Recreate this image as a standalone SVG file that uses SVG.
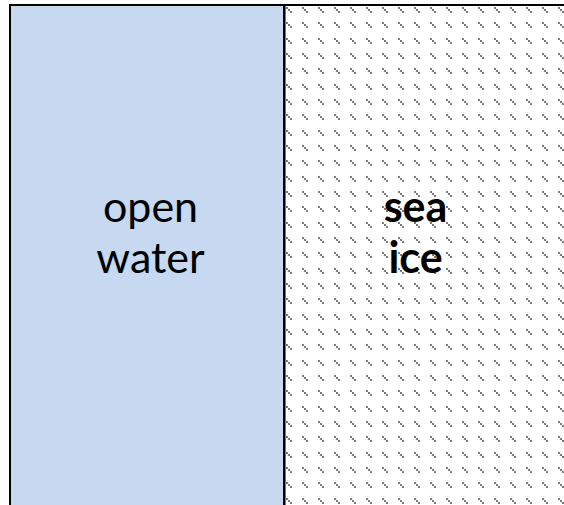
<svg xmlns="http://www.w3.org/2000/svg" width="564" height="505" viewBox="0 0 564 505">
  <style>
    .lbl { font-family: Lato, "Open Sans", "Liberation Sans", sans-serif; font-size: 43px; fill: #000; text-anchor: middle; }
    .bold { font-weight: bold; }
    .border { fill: none; stroke: #000; }
  </style>
  <defs>
    <pattern id="dashes" patternUnits="userSpaceOnUse" x="286" y="7" width="16" height="46">
      <g fill="#7a7a7a">
        <rect x="0" y="0" width="2" height="2"/><rect x="2" y="2" width="2" height="2"/><rect x="4" y="4" width="2" height="2"/>
        <rect x="0" y="15" width="2" height="2"/><rect x="2" y="17" width="2" height="2"/><rect x="4" y="19" width="2" height="2"/>
        <rect x="0" y="31" width="2" height="2"/><rect x="2" y="33" width="2" height="2"/><rect x="4" y="35" width="2" height="2"/>
      </g>
    </pattern>
  </defs>
  <rect x="0" y="0" width="564" height="505" fill="#fff"/>
  <g id="open-water">
    <rect x="10" y="5" width="274" height="510" fill="#C6D9F0"/>
    <text class="lbl" x="150.5" y="222">open</text>
    <text class="lbl" x="150.5" y="273">water</text>
  </g>
  <g id="sea-ice">
    <rect x="284" y="5" width="290" height="510" fill="url(#dashes)"/>
    <text class="lbl bold" x="415.5" y="222">sea</text>
    <text class="lbl bold" x="415.5" y="273">ice</text>
  </g>
  <g id="borders">
    <line class="border" x1="10" y1="4" x2="10" y2="510" stroke-width="2"/>
    <line class="border" x1="9" y1="5" x2="570" y2="5" stroke-width="2"/>
    <line class="border" x1="284.3" y1="5" x2="284.3" y2="510" stroke-width="2.5"/>
  </g>
</svg>
